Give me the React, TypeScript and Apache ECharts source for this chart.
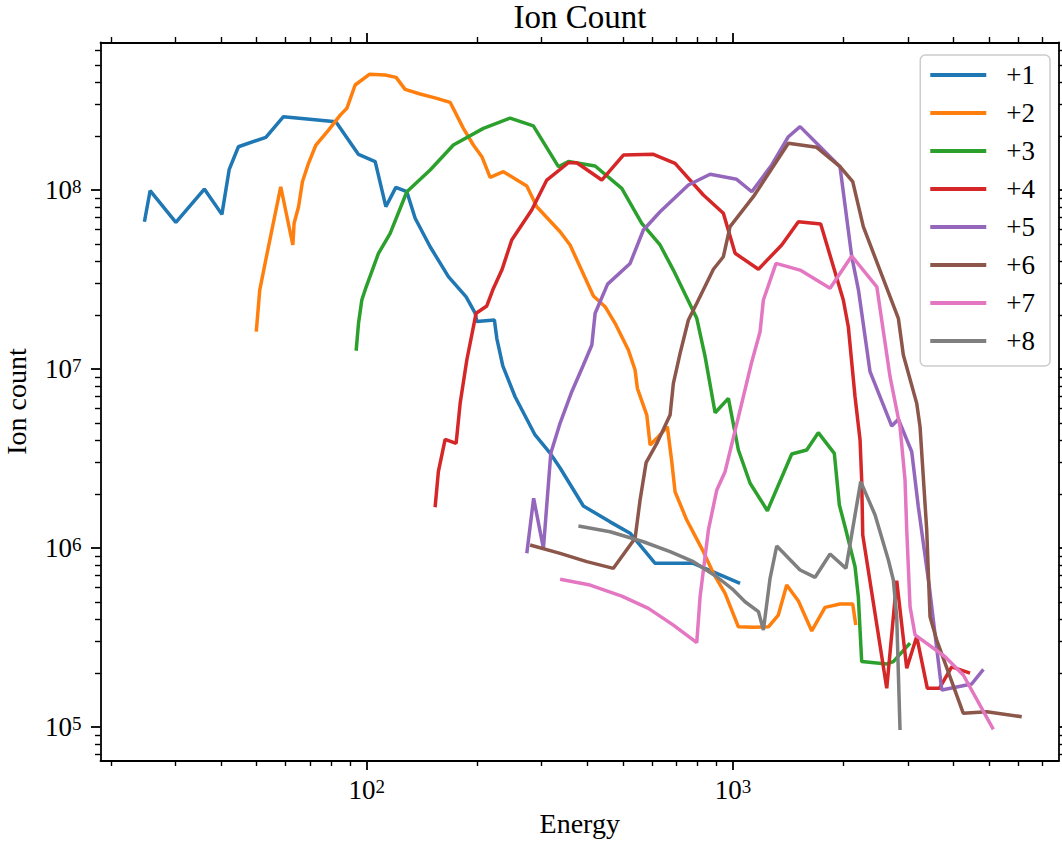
import React, { useEffect, useRef } from "react";
import * as echarts from "echarts";

const seriesNames = ["+1", "+2", "+3", "+4", "+5", "+6", "+7", "+8"];
const seriesColors = ["#1f77b4", "#ff7f0e", "#2ca02c", "#d62728", "#9467bd", "#8c564b", "#e377c2", "#7f7f7f"];

const e1 = [24.7, 25.6, 30.1, 36.0, 40.2, 42.1, 44.6, 53.0, 59.2, 82.3, 94.9, 105.4, 112.7, 120.0, 128.6, 135.5, 148.9, 167.0, 186.7, 197.6, 199.7, 223.0, 226.4, 235.1, 254.0, 288.0, 316.5, 337.1, 390.2, 461.5, 523.4, 612.6, 779, 1045];
const n1 = [6.65e7, 9.91e7, 6.6e7, 1.013e8, 7.31e7, 1.305e8, 1.745e8, 1.97e8, 2.57e8, 2.41e8, 1.58e8, 1.44e8, 8.07e7, 1.035e8, 9.78e7, 6.95e7, 4.82e7, 3.28e7, 2.53e7, 2.05e7, 1.84e7, 1.88e7, 1.485e7, 1.04e7, 7.0e6, 4.28e6, 3.39e6, 2.8e6, 1.717e6, 1.4e6, 1.21e6, 8.21e5, 8.21e5, 6.35e5];

const e2 = [49.9, 51.0, 53.1, 58.2, 62.8, 63.3, 65.1, 66.7, 69.3, 72.6, 78.6, 84.6, 88.2, 92.9, 101.6, 112.2, 120.2, 127.2, 139.8, 155.3, 168.8, 183.5, 195.4, 206.1, 217.1, 236.0, 273.4, 291.1, 337.1, 358.9, 415.6, 447.3, 476.3, 517.8, 540.1, 547.9, 581.4, 593.6, 619.1, 661.6, 680.3, 694.5, 747.4, 829.7, 883.7, 951.0, 1034, 1136, 1249, 1329, 1401, 1508, 1640, 1783, 1959, 2122, 2163];
const n2 = [1.616e7, 2.76e7, 4.17e7, 1.043e8, 4.93e7, 6.52e7, 8.07e7, 1.113e8, 1.41e8, 1.784e8, 2.16e8, 2.62e8, 2.86e8, 3.86e8, 4.43e8, 4.39e8, 4.26e8, 3.65e8, 3.44e8, 3.25e8, 3.09e8, 2.21e8, 1.784e8, 1.535e8, 1.178e8, 1.266e8, 1.053e8, 8.07e7, 5.85e7, 4.93e7, 2.56e7, 2.23e7, 1.8e7, 1.277e7, 9.87e6, 7.8e6, 5.53e6, 3.76e6, 4.1e6, 4.76e6, 3.03e6, 2.06e6, 1.433e6, 9.54e5, 7.22e5, 5.58e5, 3.63e5, 3.61e5, 3.63e5, 4.22e5, 6.21e5, 5.06e5, 3.44e5, 4.66e5, 4.87e5, 4.87e5, 3.71e5];

const e3 = [93.5, 94.9, 96.9, 99.6, 107.6, 115.8, 128.6, 148.9, 172.3, 208.1, 246.1, 284.9, 333.5, 355.1, 420.1, 496.7, 563.3, 632.0, 687.1, 796.0, 838.8, 893.3, 971.0, 1034, 1113, 1241, 1446, 1589, 1709, 1890, 1951, 2022, 2153, 2198, 2245, 2628, 2739, 3043];
const n3 = [1.265e7, 1.8e7, 2.43e7, 2.88e7, 4.43e7, 5.73e7, 9.78e7, 1.293e8, 1.784e8, 2.21e8, 2.52e8, 2.28e8, 1.35e8, 1.443e8, 1.362e8, 1.022e8, 6.52e7, 4.93e7, 3.57e7, 1.92e7, 1.172e7, 5.7e6, 6.86e6, 3.53e6, 2.3e6, 1.616e6, 3.35e6, 3.53e6, 4.41e6, 3.38e6, 1.739e6, 1.315e6, 7.86e5, 5.34e5, 2.32e5, 2.25e5, 2.32e5, 2.94e5];

const e4 = [153.6, 156.8, 163.6, 175.3, 179.8, 187.5, 198.8, 212.6, 221.6, 233.7, 248.7, 282.0, 310.0, 355.1, 374.4, 438.0, 501.8, 606.0, 694.5, 829.7, 940.8, 1013, 1173, 1358, 1508, 1735, 2000, 2064, 2153, 2222, 2245, 2260, 2628, 2798, 2980, 3173, 3392, 3658, 3954, 4436];
const n4 = [1.689e6, 2.67e6, 4.05e6, 3.84e6, 6.43e6, 1.123e7, 2.05e7, 2.25e7, 2.82e7, 3.57e7, 5.26e7, 7.73e7, 1.137e8, 1.42e8, 1.42e8, 1.137e8, 1.568e8, 1.582e8, 1.41e8, 9.38e7, 7.41e7, 4.43e7, 3.61e7, 4.93e7, 6.65e7, 6.46e7, 2.43e7, 1.723e7, 7.0e6, 4.01e6, 2.4e6, 1.182e6, 1.645e5, 6.57e5, 2.13e5, 3.2e5, 1.645e5, 1.645e5, 2.17e5, 2.0e5];

const e5 = [273.4, 285.4, 303.5, 317.9, 337.1, 362.7, 390.2, 411.5, 420.1, 454.4, 523.4, 569.0, 632.0, 755.1, 865.6, 1023, 1125, 1275, 1416, 1524, 1959, 2109, 2200, 2366, 2712, 2827, 3075, 3205, 3435, 3714, 4483, 4825];
const n5 = [9.34e5, 1.895e6, 9.96e5, 3.38e6, 4.99e6, 7.47e6, 1.053e7, 1.362e7, 2.05e7, 2.98e7, 3.89e7, 5.98e7, 7.56e7, 1.066e8, 1.224e8, 1.148e8, 9.78e7, 1.38e8, 1.985e8, 2.26e8, 1.35e8, 4.24e7, 2.76e7, 9.66e6, 4.8e6, 5.24e6, 3.45e6, 1.701e6, 6.08e5, 1.61e5, 1.739e5, 2.1e5];

const e6 = [279.1, 337.1, 398.6, 471.2, 540.1, 557.3, 578.9, 619.1, 673.0, 687.1, 716.7, 755.1, 796.0, 883.7, 940.8, 981.3, 1136, 1416, 1692, 1959, 2122, 2268, 2827, 2917, 3173, 3240, 3379, 3450, 3598, 4253, 4929, 6140];
const n6 = [1.04e6, 9.34e5, 8.39e5, 7.7e5, 1.133e6, 1.855e6, 3.0e6, 3.84e6, 5.53e6, 8.32e6, 1.224e7, 1.878e7, 2.33e7, 3.61e7, 4.24e7, 6.24e7, 9.18e7, 1.824e8, 1.732e8, 1.35e8, 1.113e8, 6.24e7, 1.92e7, 1.198e7, 6.43e6, 4.76e6, 1.261e6, 4.13e5, 3.06e5, 1.193e5, 1.218e5, 1.142e5];

const e7 = [337.1, 407.0, 496.7, 587.3, 687.1, 796.0, 812.7, 856.3, 902.8, 951.0, 1056, 1125, 1185, 1210, 1310, 1524, 1840, 2109, 2469, 2683, 2857, 2948, 2980, 3043, 3140, 3792, 4253, 5136];
const n7 = [6.69e5, 6.21e5, 5.39e5, 4.6e5, 3.71e5, 2.96e5, 5.34e5, 1.261e6, 2.11e6, 2.67e6, 6.43e6, 1.099e7, 1.616e7, 2.43e7, 3.89e7, 3.57e7, 2.83e7, 4.28e7, 2.88e7, 9.06e6, 4.76e6, 2.4e6, 1.261e6, 4.7e5, 3.27e5, 2.47e5, 1.952e5, 9.71e4];

const e8 = [378.2, 461.5, 569.0, 673.0, 779.0, 902.8, 1002, 1078, 1173, 1210, 1262, 1316, 1524, 1675, 1840, 2034, 2231, 2442, 2655, 2739, 2798, 2857];
const n8 = [1.327e6, 1.233e6, 1.084e6, 9.54e5, 8.39e5, 6.91e5, 5.83e5, 5.01e5, 4.41e5, 3.48e5, 6.77e5, 1.026e6, 7.54e5, 6.86e5, 9.26e5, 7.7e5, 2.35e6, 1.529e6, 8.57e5, 6.63e5, 4.13e5, 9.62e4];

const energies = [e1, e2, e3, e4, e5, e6, e7, e8];
const counts = [n1, n2, n3, n4, n5, n6, n7, n8];

const xMajorTicks = [100, 1000];
const xMinorTicks = [20, 30, 40, 50, 60, 70, 80, 90, 200, 300, 400, 500, 600, 700, 800, 900, 2000, 3000, 4000, 5000, 6000, 7000];
const yMajorTicks = [1e5, 1e6, 1e7, 1e8];
const yMinorTicks = [7e4, 8e4, 9e4, 2e5, 3e5, 4e5, 5e5, 6e5, 7e5, 8e5, 9e5, 2e6, 3e6, 4e6, 5e6, 6e6, 7e6, 8e6, 9e6, 2e7, 3e7, 4e7, 5e7, 6e7, 7e7, 8e7, 9e7, 2e8, 3e8, 4e8, 5e8, 6e8];

const X_MIN = 18.74;
const X_MAX = 7762;
const Y_MIN = 6.5e4;
const Y_MAX = 6.67e8;

const FONT = "'Liberation Serif', 'Times New Roman', serif";
const FS = 27;
const FS_NAME = 28;
const FS_TITLE = 33;

function powLabel(v: number) {
  const p = Math.round(Math.log10(v));
  return "{b|10}{s|" + p + "}";
}
const powRich = {
  b: { fontFamily: FONT, fontSize: FS, lineHeight: 27, color: "#000" },
  s: { fontFamily: FONT, fontSize: 19, lineHeight: 12, verticalAlign: "top", color: "#000" },
};

function makeAxis(kind: "x" | "y", position: string, major: boolean, labels: boolean, extra: any = {}) {
  const isX = kind === "x";
  return {
    type: "log",
    logBase: 10,
    position,
    min: isX ? X_MIN : Y_MIN,
    max: isX ? X_MAX : Y_MAX,
    splitLine: { show: false },
    axisLine: { show: major, onZero: false, lineStyle: { color: "#000", width: 1.8 } },
    axisTick: {
      show: true,
      inside: false,
      length: major ? 9.5 : 5.5,
      customValues: major ? (isX ? xMajorTicks : yMajorTicks) : isX ? xMinorTicks : yMinorTicks,
      lineStyle: { color: "#000", width: major ? 1.8 : 1.4 },
    },
    axisLabel: labels
      ? {
          show: true,
          customValues: isX ? xMajorTicks : yMajorTicks,
          formatter: powLabel,
          rich: powRich,
          margin: isX ? 16 : 19,
          color: "#000",
          fontFamily: FONT,
          fontSize: FS,
        }
      : { show: false },
    ...extra,
  };
}

export default function App() {
  const ref = useRef<HTMLDivElement>(null);
  useEffect(() => {
    if (!ref.current) return;
    const chart = echarts.init(ref.current, null, { renderer: "svg" });
    const series = seriesNames.map((name, i) => ({
      name,
      type: "line",
      xAxisIndex: 0,
      yAxisIndex: 0,
      data: energies[i].map((e, j) => [e, counts[i][j]]),
      showSymbol: false,
      symbol: "none",
      lineStyle: { width: 3.5, color: seriesColors[i] },
      itemStyle: { color: seriesColors[i] },
      emphasis: { disabled: true },
    }));
    chart.setOption({
      animation: false,
      backgroundColor: "#fff",
      grid: { left: 100.5, right: 3, top: 42.5, bottom: 83.5, containLabel: false, outerBoundsMode: "none" },
      xAxis: [
        makeAxis("x", "bottom", true, true, {
          name: "Energy",
          nameLocation: "middle",
          nameGap: 49,
          nameTextStyle: { fontFamily: FONT, fontSize: FS_NAME, color: "#000" },
        }),
        makeAxis("x", "bottom", false, false),
        makeAxis("x", "top", true, false),
        makeAxis("x", "top", false, false),
      ],
      yAxis: [
        makeAxis("y", "left", true, true, {
          name: "Ion count",
          nameLocation: "middle",
          nameGap: 70,
          nameTextStyle: { fontFamily: FONT, fontSize: FS_NAME, color: "#000" },
        }),
        makeAxis("y", "left", false, false),
        makeAxis("y", "right", true, false),
        makeAxis("y", "right", false, false),
      ],
      legend: {
        data: seriesNames,
        orient: "vertical",
        right: 12,
        top: 55,
        icon: "rect",
        itemWidth: 56,
        itemHeight: 4,
        itemGap: 8,
        padding: [5, 15, 10, 10],
        backgroundColor: "rgba(255,255,255,0.8)",
        borderColor: "#cccccc",
        borderWidth: 1.5,
        borderRadius: 5,
        textStyle: { fontFamily: FONT, fontSize: FS, lineHeight: 30, color: "#000", padding: [0, 0, 0, 15] },
        selectedMode: false,
      },
      graphic: [
        {
          type: "text",
          x: 580,
          y: 17,
          style: { text: "Ion Count", font: `${FS_TITLE}px ${FONT}`, fill: "#000", textAlign: "center", textVerticalAlign: "middle" },
        },
      ],
      series,
    });
    return () => chart.dispose();
  }, []);
  return <div ref={ref} style={{ position: "fixed", left: 0, top: 0, width: 1062, height: 844 }} />;
}
